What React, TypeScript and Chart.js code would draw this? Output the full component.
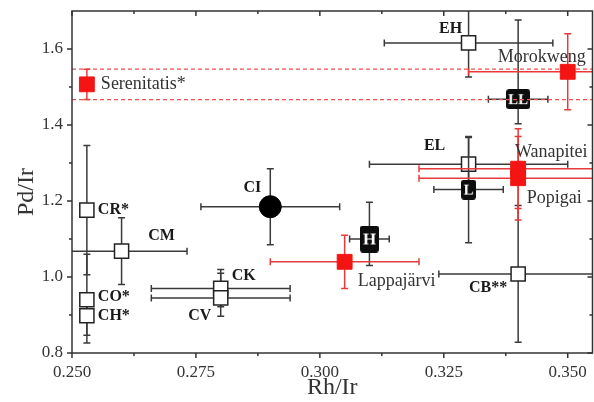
import React, { useEffect, useRef } from 'react';
import { Chart, registerables } from 'chart.js';

Chart.register(...registerables);

const FONT = "'Liberation Serif', 'Times New Roman', Times, serif";

// ---- axes ----
const xRange = [0.25, 0.355];
const yRange = [0.8, 1.7];
const xTickValues = [0.25, 0.275, 0.3, 0.325, 0.35];
const xMinorTicks = [0.2625, 0.2875, 0.3125, 0.3375];
const yTickValues = [0.8, 1.0, 1.2, 1.4, 1.6];
const yMinorTicks = [0.9, 1.1, 1.3, 1.5];
const xTitle = 'Rh/Ir';
const yTitle = 'Pd/Ir';

// ---- open-square reference groups ----
const openNames = ['EH', 'EL', 'CR*', 'CM', 'CO*', 'CH*', 'CK', 'CV', 'CB**'];
const openRhIr = [0.33, 0.33, 0.253, 0.26, 0.253, 0.253, 0.28, 0.28, 0.34];
const openPdIr = [1.616, 1.297, 1.176, 1.068, 0.94, 0.898, 0.97, 0.945, 1.008];
const openErrX = [0.017, 0.02, 0, 0.0132, 0, 0, 0.014, 0.014, 0.016];
const openErrYPlus = [0.09, 0.07, 0.17, 0.088, 0.12, 0.055, 0.05, 0.065, 0.18];
const openErrYMinus = [0.09, 0.07, 0.17, 0.088, 0.114, 0.051, 0.048, 0.048, 0.18];

// ---- filled labelled boxes ----
const boxNames = ['LL', 'L', 'H'];
const boxRhIr = [0.34, 0.33, 0.31];
const boxPdIr = [1.468, 1.23, 1.1];
const boxErrX = [0.006, 0.007, 0.004];
const boxErrYPlus = [0.208, 0.14, 0.097];
const boxErrYMinus = [0.065, 0.14, 0.07];

// ---- filled circle ----
const circleNames = ['CI'];
const circleRhIr = [0.29];
const circlePdIr = [1.185];
const circleErrX = [0.014];
const circleErrY = [0.1];

// ---- impact structures (red) ----
const impactNames = ['Serenitatis*', 'Morokweng', 'Wanapitei', 'Popigai', 'Lappajärvi'];
const impactRhIr = [0.253, 0.35, 0.34, 0.34, 0.305];
const impactPdIr = [1.507, 1.54, 1.285, 1.26, 1.04];
const impactErrX = [0, 0.02, 0.02, 0.02, 0.015];
const impactErrY = [0.04, 0.1, 0.105, 0.11, 0.07];

// label placement (pixel offsets from the point)
const labelLayout: Record<string, { dx: number; dy: number; align: CanvasTextAlign }> = {
  'EH': { dx: -18, dy: -14, align: 'center' },
  'EL': { dx: -34, dy: -18, align: 'center' },
  'CR*': { dx: 11, dy: 0, align: 'left' },
  'CM': { dx: 40, dy: -15, align: 'center' },
  'CO*': { dx: 11, dy: -3, align: 'left' },
  'CH*': { dx: 11, dy: 0, align: 'left' },
  'CK': { dx: 23, dy: -13, align: 'center' },
  'CV': { dx: -21, dy: 18, align: 'center' },
  'CB**': { dx: -30, dy: 14, align: 'center' },
  'CI': { dx: -18, dy: -19, align: 'center' },
  'Serenitatis*': { dx: 14, dy: 0, align: 'left' },
  'Morokweng': { dx: -26, dy: -15, align: 'center' },
  'Wanapitei': { dx: 33, dy: -16, align: 'center' },
  'Popigai': { dx: 36, dy: 20, align: 'center' },
  'Lappajärvi': { dx: 13, dy: 19, align: 'left' },
};

const boxSizes: Record<string, [number, number, number]> = {
  'LL': [24, 20, 15],
  'L': [15, 20, 15],
  'H': [19, 27, 17],
};

const AXIS_COLOR = '#333';
const BLACK_ERR = '#3a3a3a';
const RED = '#f41414';
const RED_ERR = 'rgb(232,58,58)';
const CAP = 3.5;

function makeBox(text: string): HTMLCanvasElement {
  const [w, h, fs] = boxSizes[text];
  const c = document.createElement('canvas');
  c.width = w;
  c.height = h;
  const g = c.getContext('2d')!;
  g.fillStyle = '#0d0d0d';
  g.beginPath();
  if ((g as any).roundRect) (g as any).roundRect(0, 0, w, h, 3);
  else g.rect(0, 0, w, h);
  g.fill();
  g.fillStyle = '#fff';
  g.font = `bold ${fs}px ${FONT}`;
  g.textAlign = 'center';
  g.textBaseline = 'middle';
  g.fillText(text, w / 2, h / 2 + 1);
  return c;
}

const errorBarPlugin = {
  id: 'errorBars',
  beforeDatasetDraw(chart: any, args: any) {
    const ds: any = chart.data.datasets[args.index];
    if (!ds.errX) return;
    const { ctx, chartArea: a } = chart;
    const xs = chart.scales.x;
    const ys = chart.scales.y;
    ctx.save();
    ctx.beginPath();
    ctx.rect(a.left, a.top, a.right - a.left, a.bottom - a.top);
    ctx.clip();
    if (ds.bandIndex !== undefined) {
      const p = ds.data[ds.bandIndex];
      const lo = p.y - ds.errYMinus[ds.bandIndex];
      const hi = p.y + ds.errYPlus[ds.bandIndex];
      ctx.strokeStyle = 'rgb(236,80,80)';
      ctx.lineWidth = 1.2;
      ctx.setLineDash([4, 3]);
      [lo, hi].forEach((v) => {
        const py = ys.getPixelForValue(v);
        ctx.beginPath();
        ctx.moveTo(a.left, py);
        ctx.lineTo(a.right, py);
        ctx.stroke();
      });
      ctx.setLineDash([]);
    }
    ctx.strokeStyle = ds.errColor;
    ctx.lineWidth = 1.5;
    ds.data.forEach((p: any, i: number) => {
      const px = xs.getPixelForValue(p.x);
      const py = ys.getPixelForValue(p.y);
      const ex = ds.errX[i];
      const eyp = ds.errYPlus[i];
      const eym = ds.errYMinus[i];
      ctx.beginPath();
      if (ex > 0) {
        const l = xs.getPixelForValue(p.x - ex);
        const r = xs.getPixelForValue(p.x + ex);
        ctx.moveTo(l, py); ctx.lineTo(r, py);
        ctx.moveTo(l, py - CAP); ctx.lineTo(l, py + CAP);
        ctx.moveTo(r, py - CAP); ctx.lineTo(r, py + CAP);
      }
      if (eyp > 0 || eym > 0) {
        const t = ys.getPixelForValue(p.y + eyp);
        const b = ys.getPixelForValue(p.y - eym);
        ctx.moveTo(px, t); ctx.lineTo(px, b);
        ctx.moveTo(px - CAP, t); ctx.lineTo(px + CAP, t);
        ctx.moveTo(px - CAP, b); ctx.lineTo(px + CAP, b);
      }
      ctx.stroke();
    });
    ctx.restore();
  },
};

const labelPlugin = {
  id: 'pointLabels',
  afterDatasetsDraw(chart: any) {
    const { ctx } = chart;
    const xs = chart.scales.x;
    const ys = chart.scales.y;
    ctx.save();
    ctx.textBaseline = 'middle';
    chart.data.datasets.forEach((ds: any) => {
      if (!ds.names) return;
      ds.data.forEach((p: any, i: number) => {
        const name = ds.names[i];
        const lay = labelLayout[name];
        if (!lay) return;
        ctx.font = ds.labelBold ? `bold 16px ${FONT}` : `18px ${FONT}`;
        ctx.fillStyle = ds.labelBold ? '#1a1a1a' : '#333';
        ctx.textAlign = lay.align;
        ctx.fillText(name, xs.getPixelForValue(p.x) + lay.dx, ys.getPixelForValue(p.y) + lay.dy);
      });
    });
    ctx.restore();
  },
};

const framePlugin = {
  id: 'frame',
  afterDraw(chart: any) {
    const { ctx, chartArea: a } = chart;
    const xs = chart.scales.x;
    const ys = chart.scales.y;
    ctx.save();
    ctx.strokeStyle = AXIS_COLOR;
    ctx.lineWidth = 1.5;
    ctx.strokeRect(a.left, a.top, a.right - a.left, a.bottom - a.top);
    ctx.beginPath();
    const xt = (v: number, len: number) => {
      const px = xs.getPixelForValue(v);
      ctx.moveTo(px, a.bottom); ctx.lineTo(px, a.bottom + len);
      ctx.moveTo(px, a.top); ctx.lineTo(px, a.top + len);
    };
    const yt = (v: number, len: number) => {
      const py = ys.getPixelForValue(v);
      ctx.moveTo(a.left, py); ctx.lineTo(a.left - len, py);
      ctx.moveTo(a.right, py); ctx.lineTo(a.right - len, py);
    };
    xTickValues.forEach((v) => xt(v, 5));
    xMinorTicks.forEach((v) => xt(v, 3));
    yTickValues.forEach((v) => yt(v, 5));
    yMinorTicks.forEach((v) => yt(v, 3));
    ctx.stroke();
    // y axis title
    ctx.fillStyle = AXIS_COLOR;
    ctx.font = `24px ${FONT}`;
    ctx.textAlign = 'center';
    ctx.textBaseline = 'middle';
    ctx.translate(27, (a.top + a.bottom) / 2 + 10);
    ctx.rotate(-Math.PI / 2);
    ctx.fillText(yTitle, 0, 0);
    ctx.restore();
  },
};

const toPts = (xs: number[], ys: number[]) => xs.map((x, i) => ({ x, y: ys[i] }));

export default function App() {
  const ref = useRef<HTMLCanvasElement>(null);
  useEffect(() => {
    document.body.style.margin = '0';
    const boxStyles = boxNames.map((n) => makeBox(n));
    const chart = new Chart(ref.current!, {
      type: 'scatter',
      data: {
        datasets: [
          {
            data: toPts(impactRhIr, impactPdIr),
            pointStyle: 'rect',
            pointRadius: 10.5,
            pointBackgroundColor: RED,
            pointBorderColor: RED,
            pointBorderWidth: 1,
            names: impactNames,
            labelBold: false,
            errX: impactErrX,
            errYPlus: impactErrY,
            errYMinus: impactErrY,
            errColor: RED_ERR,
            bandIndex: 0,
          } as any,
          {
            data: toPts(circleRhIr, circlePdIr),
            pointStyle: 'circle',
            pointRadius: 11,
            pointBackgroundColor: '#000',
            pointBorderColor: '#000',
            names: circleNames,
            labelBold: true,
            errX: circleErrX,
            errYPlus: circleErrY,
            errYMinus: circleErrY,
            errColor: BLACK_ERR,
          } as any,
          {
            data: toPts(boxRhIr, boxPdIr),
            pointStyle: boxStyles,
            pointRadius: 10,
            errX: boxErrX,
            errYPlus: boxErrYPlus,
            errYMinus: boxErrYMinus,
            errColor: BLACK_ERR,
          } as any,
          {
            data: toPts(openRhIr, openPdIr),
            pointStyle: 'rect',
            pointRadius: 10,
            pointBackgroundColor: '#fff',
            pointBorderColor: '#222',
            pointBorderWidth: 1.5,
            names: openNames,
            labelBold: true,
            errX: openErrX,
            errYPlus: openErrYPlus,
            errYMinus: openErrYMinus,
            errColor: BLACK_ERR,
          } as any,
        ],
      },
      options: {
        animation: false,
        responsive: true,
        maintainAspectRatio: false,
        events: [],
        layout: { autoPadding: false, padding: { top: 11, right: 1.5, left: 0, bottom: 0 } },
        plugins: { legend: { display: false }, tooltip: { enabled: false } },
        scales: {
          x: {
            type: 'linear',
            min: xRange[0],
            max: xRange[1],
            afterBuildTicks: (s: any) => { s.ticks = xTickValues.map((v) => ({ value: v })); },
            afterFit: (s: any) => { s.height = 49; s.paddingLeft = 0; s.paddingRight = 0; },
            grid: { display: false, drawTicks: false },
            border: { display: false },
            ticks: {
              font: { family: FONT, size: 17 },
              color: AXIS_COLOR,
              padding: 9,
              maxRotation: 0,
              autoSkip: false,
              callback: (v: any) => Number(v).toFixed(3),
            },
            title: {
              display: true,
              text: xTitle,
              font: { family: FONT, size: 24 },
              color: AXIS_COLOR,
              padding: { top: 0, bottom: 0 },
            },
          },
          y: {
            type: 'linear',
            min: yRange[0],
            max: yRange[1],
            afterBuildTicks: (s: any) => { s.ticks = yTickValues.map((v) => ({ value: v })); },
            afterFit: (s: any) => { s.width = 72; s.paddingTop = 0; s.paddingBottom = 0; },
            grid: { display: false, drawTicks: false },
            border: { display: false },
            ticks: {
              font: { family: FONT, size: 17 },
              color: AXIS_COLOR,
              padding: 9,
              autoSkip: false,
              callback: (v: any) => Number(v).toFixed(1),
            },
          },
        },
      },
      plugins: [errorBarPlugin, labelPlugin, framePlugin],
    });
    return () => chart.destroy();
  }, []);
  return (
    <div style={{ position: 'absolute', left: 0, top: 0, width: 594, height: 402 }}>
      <canvas ref={ref} />
    </div>
  );
}
